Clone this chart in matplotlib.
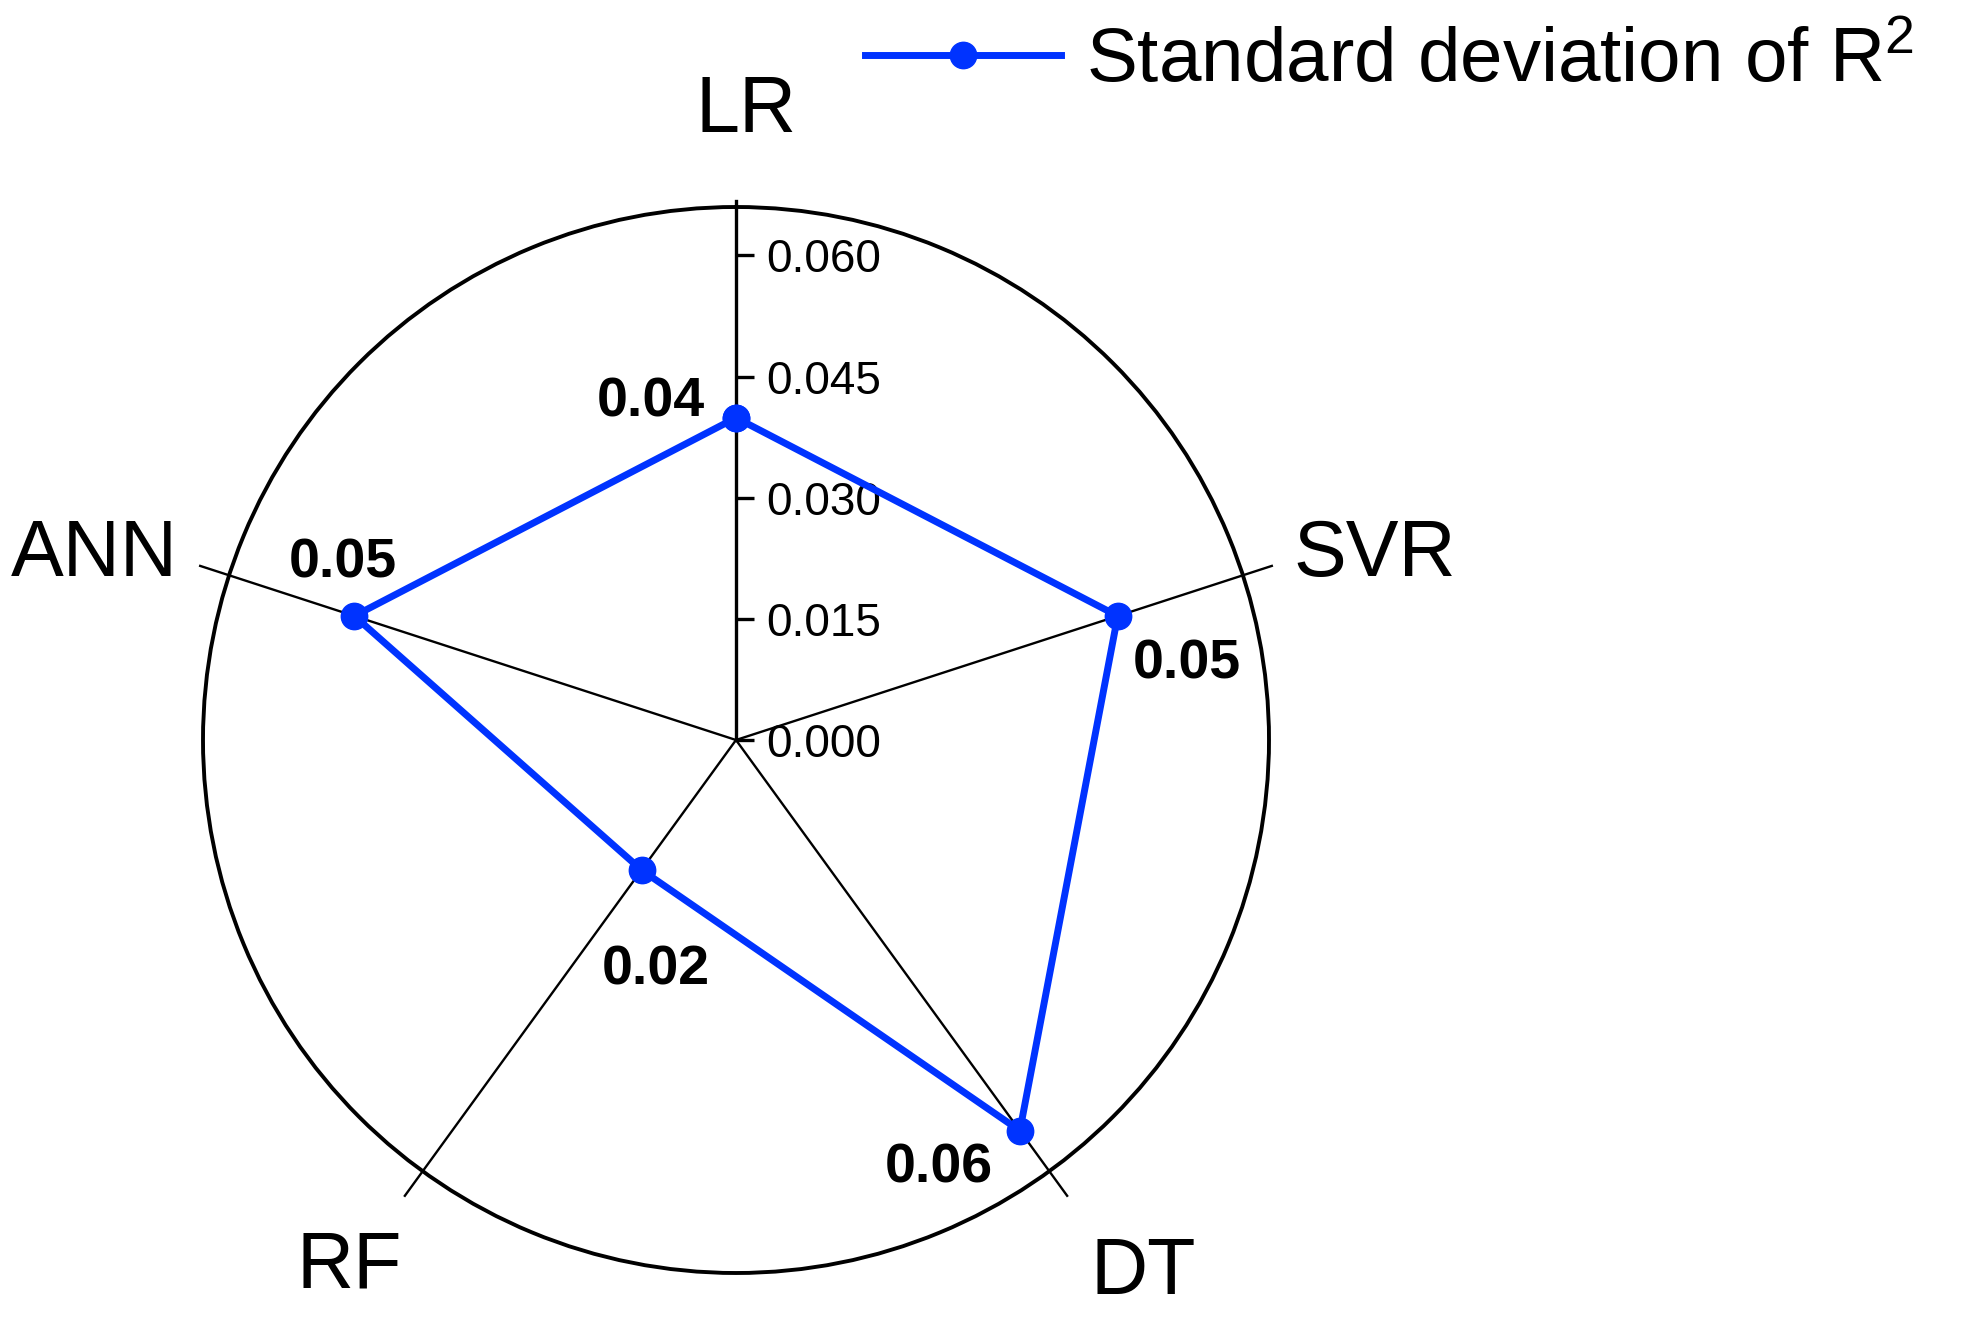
import numpy as np
import matplotlib.pyplot as plt

plt.rcParams['font.family'] = ['Liberation Sans', 'DejaVu Sans']
plt.rcParams['mathtext.fontset'] = 'custom'
plt.rcParams['mathtext.rm'] = 'Liberation Sans'
plt.rcParams['mathtext.it'] = 'Liberation Sans:italic'

# data
models = ['LR', 'SVR', 'DT', 'RF', 'ANN']
std_r2 = [0.0399, 0.0497, 0.0598, 0.0199, 0.0497]
radial_ticks = [0.000, 0.015, 0.030, 0.045, 0.060]
series_label = 'Standard deviation of R$^2$'

rmax = 0.066
blue = '#0033ff'

# offsets (points) for value labels and category labels
value_offsets = [(-61, 11), (50, -35), (-58, -27), (10, -72), (-8, 38)]
name_offsets = [(7, 69), (95, 14), (68, -74), (-53, -69), (-97, 14)]

angles = np.linspace(0, 2 * np.pi, len(models), endpoint=False)

fig = plt.figure(figsize=(19.61, 13.26), dpi=100)
rect = [203 / 1961, 53 / 1326, 1066 / 1961, 1066 / 1326]

# cartesian overlay used for the vertical radial scale
ax2 = fig.add_axes(rect)
ax2.set_xlim(-rmax, rmax)
ax2.set_ylim(-rmax, rmax)
ax2.set_aspect('equal')
for s in ['left', 'top', 'bottom']:
    ax2.spines[s].set_visible(False)
ax2.spines['right'].set_position(('data', 0))
ax2.spines['right'].set_bounds(0, 0.0668)
ax2.spines['right'].set_linewidth(2.4)
ax2.yaxis.tick_right()
ax2.set_yticks(radial_ticks)
ax2.set_yticklabels([f'{t:.3f}' for t in radial_ticks])
ax2.tick_params(axis='y', direction='out', length=13, width=2.4, pad=9, labelsize=33)
ax2.set_xticks([])
ax2.patch.set_visible(False)

# polar radar
ax = fig.add_axes(rect, projection='polar')
ax.set_theta_offset(np.pi / 2)
ax.set_theta_direction(-1)
ax.set_ylim(0, rmax)
ax.grid(False)
ax.set_xticks([])
ax.set_yticks([])
ax.patch.set_visible(False)
ax.spines['polar'].set_linewidth(2.8)

for a in angles[1:]:
    ax.plot([a, a], [0, rmax * 1.057], color='black', lw=1.7, clip_on=False)

theta = np.append(angles, angles[0])
vals = np.append(std_r2, std_r2[0])
ax.plot(theta, vals, color=blue, lw=5, marker='o', ms=19,
        label=series_label, zorder=5, clip_on=False)

for a, v, off in zip(angles, std_r2, value_offsets):
    ax.annotate(f'{v:.2f}', (a, v), xytext=off, textcoords='offset points',
                ha='center', va='center', fontsize=40, fontweight='bold')

for a, name, off in zip(angles, models, name_offsets):
    ax.annotate(name, (a, rmax), xytext=off, textcoords='offset points',
                ha='center', va='center', fontsize=57, annotation_clip=False)

h, l = ax.get_legend_handles_labels()
fig.legend(h, l, loc='center left', bbox_to_anchor=(865 / 1961, 1 - 62 / 1326),
           frameon=False, fontsize=55, handlelength=2.56, handletextpad=0.33,
           borderpad=0, borderaxespad=0)

fig.savefig('out.png', dpi=100)
